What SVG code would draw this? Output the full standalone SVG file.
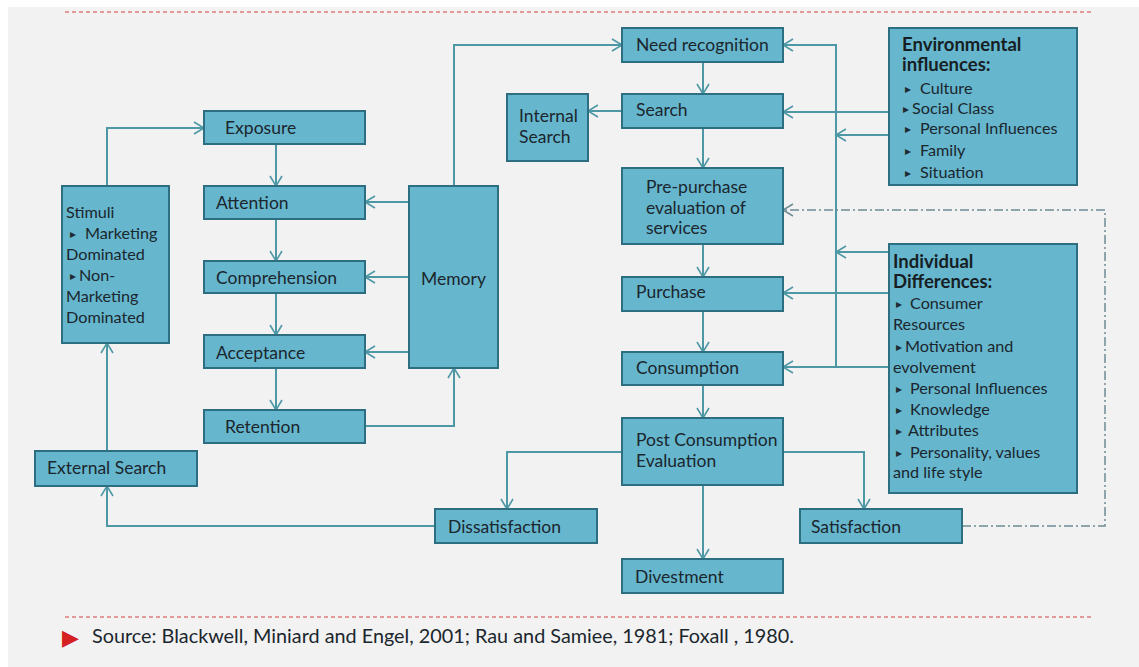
<svg xmlns="http://www.w3.org/2000/svg" width="1139" height="667" viewBox="0 0 1139 667">
<style>
.box{fill:#66b6ce;stroke:#2d6e80;stroke-width:2}
.t{font-family:Lato,"Open Sans","Liberation Sans",sans-serif;font-size:17.5px;fill:#1b262d}
.s{font-family:Lato,"Open Sans","Liberation Sans",sans-serif;font-size:16.2px;fill:#1b262d}
.b{font-family:Lato,"Open Sans","Liberation Sans",sans-serif;font-size:18.5px;font-weight:bold;fill:#161e23}
.bu{font-family:"DejaVu Sans",sans-serif;font-size:12px;fill:#1e2b33}
.c{fill:none;stroke:#4e98a6;stroke-width:2}
.dd{fill:none;stroke:#6d8c94;stroke-width:1.5;stroke-dasharray:9 3 2 3}
.red{stroke:#d04040;stroke-width:1.2;stroke-dasharray:4 3}
</style>
<defs>
<marker id="a" markerUnits="userSpaceOnUse" markerWidth="14" markerHeight="14" refX="11" refY="7" orient="auto">
<path d="M1,1 L11,7 L1,13" fill="none" stroke="#4e98a6" stroke-width="1.6"/>
</marker>
<marker id="ag" markerUnits="userSpaceOnUse" markerWidth="14" markerHeight="14" refX="11" refY="7" orient="auto">
<path d="M1,1 L11,7 L1,13" fill="none" stroke="#6d8c94" stroke-width="1.5"/>
</marker>
</defs>
<rect x="0" y="0" width="1139" height="667" fill="#ffffff"/>
<rect x="8" y="7" width="1131" height="660" fill="#f2f2f2"/>
<line class="red" x1="65" y1="12" x2="1092" y2="12"/>
<line class="red" x1="65" y1="617" x2="1092" y2="617"/>

<g id="connectors">
<path class="c" d="M276,144 V186" marker-end="url(#a)"/>
<path class="c" d="M276,219 V261" marker-end="url(#a)"/>
<path class="c" d="M276,293 V335" marker-end="url(#a)"/>
<path class="c" d="M276,368 V410" marker-end="url(#a)"/>
<path class="c" d="M107,186 V128 H204" marker-end="url(#a)"/>
<path class="c" d="M107,451 V343" marker-end="url(#a)"/>
<path class="c" d="M435,526 H107 V486" marker-end="url(#a)"/>
<path class="c" d="M409,202 H365" marker-end="url(#a)"/>
<path class="c" d="M409,277 H365" marker-end="url(#a)"/>
<path class="c" d="M409,352 H365" marker-end="url(#a)"/>
<path class="c" d="M365,426 H454 V368" marker-end="url(#a)"/>
<path class="c" d="M454,186 V45 H622" marker-end="url(#a)"/>
<path class="c" d="M622,111 H588" marker-end="url(#a)"/>
<path class="c" d="M703,62 V94" marker-end="url(#a)"/>
<path class="c" d="M703,128 V168" marker-end="url(#a)"/>
<path class="c" d="M703,244 V277" marker-end="url(#a)"/>
<path class="c" d="M703,311 V352" marker-end="url(#a)"/>
<path class="c" d="M703,385 V418" marker-end="url(#a)"/>
<path class="c" d="M703,485 V559" marker-end="url(#a)"/>
<path class="c" d="M623,452 H507 V509" marker-end="url(#a)"/>
<path class="c" d="M783,452 H864 V509" marker-end="url(#a)"/>
<path class="c" d="M836,367 V45 H783" marker-end="url(#a)"/>
<path class="c" d="M889,112 H783" marker-end="url(#a)"/>
<path class="c" d="M889,135 H836" marker-end="url(#a)"/>
<path class="c" d="M889,252 H836" marker-end="url(#a)"/>
<path class="c" d="M889,293 H783" marker-end="url(#a)"/>
<path class="c" d="M889,367 H783" marker-end="url(#a)"/>
<path class="dd" d="M962,526 H1105 V210 H783" marker-end="url(#ag)"/>
</g>

<g id="exposure"><rect class="box" x="204" y="111" width="161" height="33"/><text class="t" x="225" y="134">Exposure</text></g>
<g id="attention"><rect class="box" x="204" y="186" width="161" height="33"/><text class="t" x="216" y="209">Attention</text></g>
<g id="comprehension"><rect class="box" x="204" y="261" width="161" height="32"/><text class="t" x="216" y="284">Comprehension</text></g>
<g id="acceptance"><rect class="box" x="204" y="335" width="161" height="33"/><text class="t" x="216" y="359">Acceptance</text></g>
<g id="retention"><rect class="box" x="204" y="410" width="161" height="33"/><text class="t" x="225" y="433">Retention</text></g>
<g id="stimuli"><rect class="box" x="62" y="186" width="107" height="157"/>
<text class="s" x="66" y="218">Stimuli</text>
<text class="bu" x="70" y="238">▸</text><text class="s" x="85" y="239">Marketing</text>
<text class="s" x="66" y="260">Dominated</text>
<text class="bu" x="70" y="280">▸</text><text class="s" x="79" y="281">Non-</text>
<text class="s" x="66" y="302">Marketing</text>
<text class="s" x="66" y="323">Dominated</text></g>
<g id="external-search"><rect class="box" x="35" y="451" width="162" height="35"/><text class="t" x="47" y="474">External Search</text></g>
<g id="memory"><rect class="box" x="409" y="186" width="89" height="182"/><text class="t" x="421" y="285">Memory</text></g>
<g id="need-recognition"><rect class="box" x="622" y="28" width="161" height="34"/><text class="t" x="636" y="51">Need recognition</text></g>
<g id="search"><rect class="box" x="622" y="94" width="161" height="34"/><text class="t" x="636" y="116">Search</text></g>
<g id="internal-search"><rect class="box" x="507" y="94" width="81" height="67"/><text class="t" x="519" y="122">Internal</text><text class="t" x="519" y="143">Search</text></g>
<g id="pre-purchase"><rect class="box" x="622" y="168" width="161" height="76"/><text class="t" x="646" y="193">Pre-purchase</text><text class="t" x="646" y="214">evaluation of</text><text class="t" x="646" y="234">services</text></g>
<g id="purchase"><rect class="box" x="622" y="277" width="161" height="34"/><text class="t" x="636" y="298">Purchase</text></g>
<g id="consumption"><rect class="box" x="622" y="352" width="161" height="33"/><text class="t" x="636" y="374">Consumption</text></g>
<g id="post-consumption"><rect class="box" x="622" y="418" width="161" height="67"/><text class="t" x="636" y="446">Post Consumption</text><text class="t" x="636" y="467">Evaluation</text></g>
<g id="dissatisfaction"><rect class="box" x="435" y="509" width="162" height="34"/><text class="t" x="448" y="533">Dissatisfaction</text></g>
<g id="satisfaction"><rect class="box" x="800" y="509" width="162" height="34"/><text class="t" x="811" y="533">Satisfaction</text></g>
<g id="divestment"><rect class="box" x="622" y="559" width="161" height="34"/><text class="t" x="635" y="583">Divestment</text></g>
<g id="environmental"><rect class="box" x="889" y="28" width="188" height="157"/>
<text class="b" x="902" y="51">Environmental</text>
<text class="b" x="902" y="71">influences:</text>
<text class="bu" x="905" y="93">▸</text><text class="s" x="920" y="94">Culture</text>
<text class="bu" x="903" y="113">▸</text><text class="s" x="912" y="114">Social Class</text>
<text class="bu" x="905" y="133">▸</text><text class="s" x="920" y="134">Personal Influences</text>
<text class="bu" x="905" y="155">▸</text><text class="s" x="920" y="156">Family</text>
<text class="bu" x="905" y="177">▸</text><text class="s" x="920" y="178">Situation</text></g>
<g id="individual"><rect class="box" x="889" y="244" width="188" height="249"/>
<text class="b" x="893" y="268">Individual</text>
<text class="b" x="893" y="288">Differences:</text>
<text class="bu" x="896" y="308">▸</text><text class="s" x="910" y="309">Consumer</text>
<text class="s" x="893" y="330">Resources</text>
<text class="bu" x="896" y="351">▸</text><text class="s" x="905" y="352">Motivation and</text>
<text class="s" x="893" y="373">evolvement</text>
<text class="bu" x="896" y="393">▸</text><text class="s" x="910" y="394">Personal Influences</text>
<text class="bu" x="896" y="414">▸</text><text class="s" x="910" y="415">Knowledge</text>
<text class="bu" x="896" y="435">▸</text><text class="s" x="908" y="436">Attributes</text>
<text class="bu" x="896" y="457">▸</text><text class="s" x="910" y="458">Personality, values</text>
<text class="s" x="893" y="478">and life style</text></g>

<g id="source">
<text x="62" y="645" style="font-family:'DejaVu Sans',sans-serif;font-size:22px;fill:#d42020">▶</text>
<text x="92" y="643" textLength="702" lengthAdjust="spacingAndGlyphs" style="font-family:Lato,'Open Sans','Liberation Sans',sans-serif;font-size:19px;fill:#1b262d">Source: Blackwell, Miniard and Engel, 2001; Rau and Samiee, 1981; Foxall , 1980.</text>
</g>
</svg>
